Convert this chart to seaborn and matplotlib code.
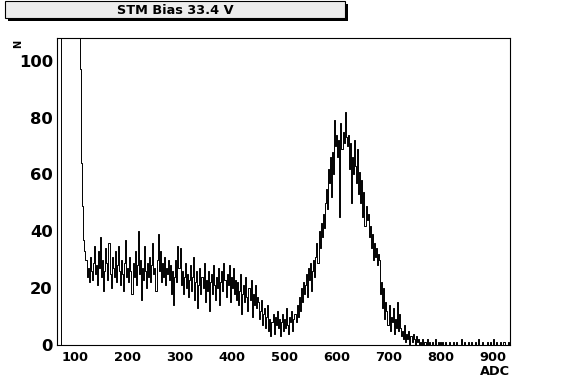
import numpy as np
import pandas as pd
import matplotlib
matplotlib.use("Agg")
import matplotlib.pyplot as plt
from matplotlib.patches import Rectangle
from matplotlib.ticker import MultipleLocator
import seaborn as sns

# histogram binning (ADC)
BIN_START = 72
BIN_WIDTH = 2

# counts per 2-ADC bin
# first bin empty, then the pedestal which is off scale
pedestal_counts = [0] + [250] * 18
edge_counts = [97, 64, 49, 37, 33]
plateau_counts = [
    30, 24, 27, 22, 31, 26, 23, 29, 35, 25,
    28, 21, 33, 27, 38, 24, 30, 19, 26, 34,
    29, 23, 36, 25, 20, 31, 27, 24, 33, 22,
    28, 35, 26, 21, 30, 25, 19, 29, 37, 24,
    27, 22, 31, 26, 18, 29, 24, 33, 21, 28,
    40, 25, 30, 16, 27, 23, 35, 26, 20, 29,
    24, 31, 22, 28, 36, 25, 27, 19, 30, 39,
    26, 33, 22, 29, 24, 31, 21, 27, 25, 30,
    23, 28, 18, 26, 14, 24, 30, 22, 35, 27,
    34, 21, 26, 18, 24, 29, 20, 25, 17, 23,
    28, 19, 24, 31, 16, 22, 26, 13, 21, 27,
    18, 24, 20, 29, 15, 23, 19, 26, 12, 22,
    25, 18, 28, 21, 16, 24, 20, 27, 14, 22,
    26, 19, 29, 23, 17, 25, 21, 28, 15, 24,
    20, 27, 18, 23, 16,
]
valley_counts = [
    22, 14, 19, 25, 11, 18, 21, 15, 24, 17,
    12, 20, 16, 23, 10, 18, 14, 21, 13, 17,
    15, 9, 12, 16, 7, 11, 13, 6, 10, 14,
    5, 9, 3, 8, 11,
    4, 10, 7, 12, 6, 9, 3, 8, 11, 5,
    9, 6, 13, 7, 4, 10, 8, 12, 5, 9,
]
peak_counts = [
    11, 8, 14, 10, 17, 12, 20, 15, 22, 18,
    21, 25, 17, 27, 23, 29, 19, 26, 30, 24,
    31, 36, 29, 40, 34, 43, 38, 46, 41, 50,
    55, 48, 62, 57, 66, 52, 68, 60,
    79, 70, 74, 66, 72, 45, 78, 69, 75, 71, 82, 73,
    70, 74, 62, 71, 50, 66, 60, 72, 63, 57,
    69, 53, 61, 50, 58, 45, 54, 42, 49, 44,
    46, 38, 42, 34, 39, 30, 36, 31, 34, 28, 32, 30,
    18, 22, 13, 20, 9, 15,
    12, 7, 14, 5, 10, 8, 13, 4, 9, 6, 15, 5, 11,
]
tail_counts = [
    6, 3, 5, 2, 7, 1, 4, 2, 5, 0, 3, 1, 4, 2, 0, 3, 1, 2, 0,
    1, 0, 2, 0, 1, 1, 0, 2, 0, 1, 0, 0, 1, 0, 2, 0, 0, 1, 0, 1,
    0, 1, 0, 0, 1, 0, 0, 0, 1, 0, 0, 0, 1, 0, 0, 1, 0, 0, 0, 2,
    0, 0, 1, 0, 0, 0, 1, 0, 0, 1, 0, 0, 0, 1, 0, 0, 2, 0, 0, 1,
    0, 0, 0, 0, 1, 0, 0, 1, 0, 0, 2, 0, 0, 1, 0, 0, 0, 1, 0, 0,
    1, 0, 0, 0, 1, 0,
]

counts = pedestal_counts + edge_counts + plateau_counts + valley_counts + peak_counts + tail_counts
edges = [BIN_START + BIN_WIDTH * i for i in range(len(counts) + 1)]
df = pd.DataFrame({"adc": [e + BIN_WIDTH / 2 for e in edges[:-1]], "n": counts})

sns.set_style("white")
plt.rcParams["font.family"] = ["DejaVu Sans"]
plt.rcParams["text.color"] = "black"
plt.rcParams["axes.labelcolor"] = "black"
plt.rcParams["xtick.color"] = "black"
plt.rcParams["ytick.color"] = "black"

W, H = 567, 384
fig = plt.figure(figsize=(W / 100, H / 100), dpi=100)
ax = fig.add_axes([57 / W, 1 - 345 / H, 453 / W, 307 / H])

sns.histplot(data=df, x="adc", weights="n", bins=edges, element="step",
             fill=False, color="black", linewidth=0.7, ax=ax)

ax.set_xlim(65.5, 932.5)
ax.set_ylim(0, 108)
ax.xaxis.set_major_locator(MultipleLocator(100))
ax.xaxis.set_minor_locator(MultipleLocator(20))
ax.yaxis.set_major_locator(MultipleLocator(20))
ax.yaxis.set_minor_locator(MultipleLocator(5))
ax.tick_params(which="both", direction="in", top=False, right=False,
               color="black", labelcolor="black", width=0.7)
ax.tick_params(axis="y", which="major", length=9.5, pad=3, labelsize=11.8)
ax.tick_params(axis="y", which="minor", length=5)
ax.tick_params(axis="x", which="major", length=6.5, pad=4, labelsize=9.4)
ax.tick_params(axis="x", which="minor", length=3)
for lab in ax.get_xticklabels() + ax.get_yticklabels():
    lab.set_fontweight("bold")
for sp in ax.spines.values():
    sp.set_color("black")
    sp.set_linewidth(0.8)

ax.set_ylabel("")
ax.set_xlabel("ADC", loc="right", fontsize=9.3, fontweight="bold", labelpad=1)
fig.text(18.5 / W, 1 - 43.5 / H, "N", rotation=90, ha="center", va="center",
         fontsize=7, fontweight="bold")

# title box with shadow, ROOT style
fig.patches.append(Rectangle((8 / W, 1 - 21 / H), 340 / W, 17 / H,
                             transform=fig.transFigure, facecolor="black",
                             edgecolor="none", zorder=1))
fig.patches.append(Rectangle((5 / W, 1 - 18 / H), 340 / W, 17 / H,
                             transform=fig.transFigure, facecolor="#ececec",
                             edgecolor="black", linewidth=0.8, zorder=2))
fig.text(175 / W, 1 - 10 / H, "STM Bias 33.4 V", ha="center", va="center",
         fontsize=9.3, fontweight="bold", zorder=3)

fig.savefig("out.png", dpi=100)
